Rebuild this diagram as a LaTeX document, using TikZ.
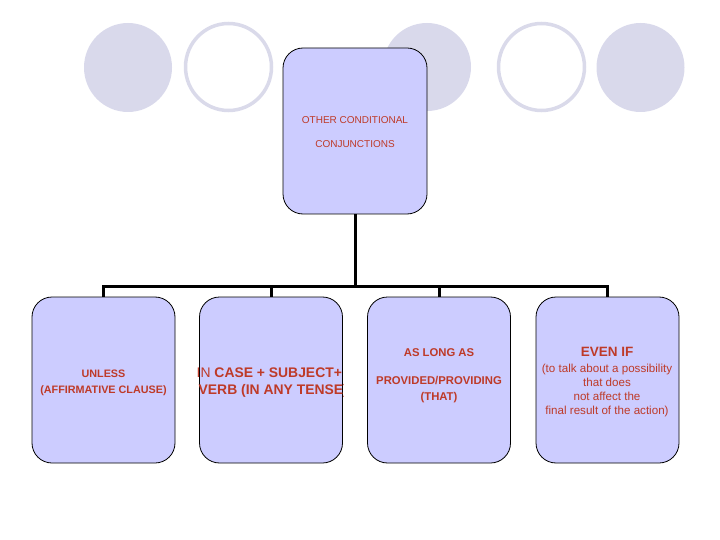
\documentclass[tikz,border=0pt]{standalone}
\usepackage{fontspec}
\setmainfont{Liberation Sans}
\definecolor{txtred}{RGB}{190,58,40}
\definecolor{boxfill}{RGB}{204,204,255}
\definecolor{circfill}{RGB}{217,217,235}
\definecolor{circline}{RGB}{218,218,234}
\tikzset{
  cbox/.style={draw=black, line width=0.8pt, fill=boxfill, rounded corners=20pt,
    minimum width=143pt, minimum height=166pt, inner sep=0pt},
  link/.style={draw=black, line width=3pt},
  fullc/.style={fill=circfill},
  openc/.style={draw=circline, line width=3.5pt, fill=white},
  lbl/.style={text=txtred, anchor=base, inner sep=0pt},
}
\begin{document}
\begin{tikzpicture}[x=1pt,y=-1pt]
\useasboundingbox (0,0) rectangle (720,540);
% decorative circles
\path[fullc] (128,67.5) ellipse [x radius=44, y radius=44.5];
\path[openc] (228.5,67) ellipse [x radius=43, y radius=43.5];
\path[fullc] (427,67) ellipse [x radius=44, y radius=44];
\path[openc] (541.5,67) ellipse [x radius=43, y radius=43.5];
\path[fullc] (640.5,67.5) ellipse [x radius=44, y radius=44.5];
% boxes
\node[cbox, minimum width=144pt] (top) at (355,131) {};
\node[cbox] (b1) at (103.5,380) {};
\node[cbox] (b2) at (271,380) {};
\node[cbox] (b3) at (439,380) {};
\node[cbox] (b4) at (607.5,380) {};
% connectors
\coordinate (hl) at (103.5,286.5);
\coordinate (hr) at (607.5,286.5);
\draw[link] (b1.north) -- (hl) -- (hr) -- (b4.north);
\draw[link] (b2.north) -- (b2.north |- hl);
\draw[link] (b3.north) -- (b3.north |- hl);
\draw[link] (top.south) -- (top.south |- hl);
% top text
\node[lbl, font=\fontsize{10}{12}\selectfont] (t1) at (355,123.6) {OTHER CONDITIONAL};
\node[lbl, font=\fontsize{10}{12}\selectfont] (t2) at (355,147.6) {CONJUNCTIONS};
% box 1
\node[lbl, font=\bfseries\fontsize{10.8}{12}\selectfont] (u1) at (103.5,377) {UNLESS};
\node[lbl, font=\bfseries\fontsize{10.8}{12}\selectfont] (u2) at (103.5,393) {(AFFIRMATIVE CLAUSE)};
% box 2 (text clipped at the right)
\begin{scope}
\clip (195,297) rectangle (343.5,463);
\node[lbl, anchor=base west, font=\fontsize{13.9}{16}\selectfont] (c1) at (196.5,377) {IN \bfseries CASE + SUBJECT+};
\node[lbl, anchor=base west, font=\bfseries\fontsize{13.9}{16}\selectfont] (c2) at (198.5,394) {VERB (IN ANY TENSE)};
\end{scope}
% box 3
\node[lbl, font=\bfseries\fontsize{11.3}{13}\selectfont] (a1) at (439,356) {AS LONG AS};
\node[lbl, font=\bfseries\fontsize{11.3}{13}\selectfont] (a2) at (439,384) {PROVIDED/PROVIDING};
\node[lbl, font=\bfseries\fontsize{11.3}{13}\selectfont] (a3) at (439,400) {(THAT)};
% box 4
\node[lbl, font=\bfseries\fontsize{13.5}{15}\selectfont] (e1) at (607,356) {EVEN IF};
\node[lbl, font=\fontsize{11.6}{14}\selectfont] (e2) at (607,372) {(to talk about a possibility};
\node[lbl, font=\fontsize{11.6}{14}\selectfont] (e3) at (607,386) {that does};
\node[lbl, font=\fontsize{11.6}{14}\selectfont] (e4) at (607,400) {not affect the};
\node[lbl, font=\fontsize{11.6}{14}\selectfont] (e5) at (607,414) {final result of the action)};
\end{tikzpicture}
\end{document}
